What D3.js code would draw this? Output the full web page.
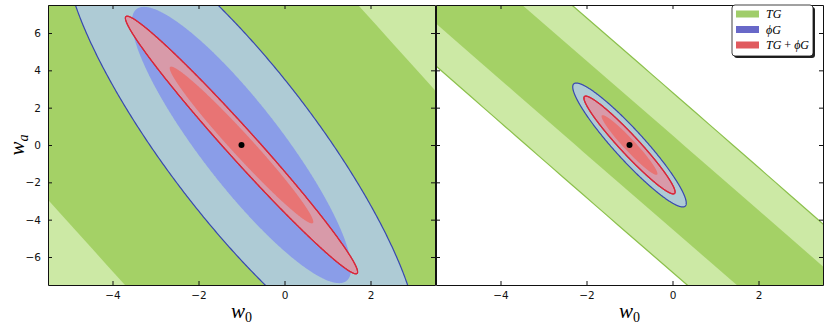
<!DOCTYPE html>
<html>
<head>
<meta charset="utf-8">
<script src="https://cdn.jsdelivr.net/npm/d3@7"></script>
<style>
  body { margin: 0; background: #fff; }
  svg { display: block; }
</style>
</head>
<body>
<div id="chart"></div>
<script>
// ---- data ----
const fiducial = [-1, 0];
const xTicks = [-4, -2, 0, 2];
const yTicks = [-6, -4, -2, 0, 2, 4, 6];
const legendLabels = ['TG', 'ϕG', 'TG + ϕG'];

// each contour: [w0 extent, wa extent, correlation]; 1σ then 2σ
const leftTG    = [[40, 101.8, -0.99], [65, 167, -0.99]];
const leftPhiG  = [[2.55, 7.4, -0.89], [4.1, 11.9, -0.854]];
const leftComb  = [[1.67, 4.2, -0.98], [2.7, 6.9, -0.985]];
const rightTG   = [[30, 60.05, -0.99912], [30, 60.19, -0.99679]];
const rightPhiG = [[0.8, 2.02, -0.937], [1.32, 3.32, -0.937]];
const rightComb = [[0.65, 1.6, -0.96], [1.06, 2.62, -0.96]];

// ---- layout ----
const W = 830, H = 328;
const TOP = 5, BOTTOM = 285;
const TICK = 4;

const colors = {
  tg:   ['#a4d166', '#cce9a5', '#8cc04c'],
  phi:  ['#8a9de8', '#aecbd5', '#3848b0'],
  comb: ['#e87474', '#d89aa9', '#d8283a']
};
const legendColors = ['#a0cd6a', '#6868c8', '#e05a5e'];

const svg = d3.select('#chart').append('svg')
  .attr('width', W).attr('height', H)
  .style('font-family', '"DejaVu Sans", sans-serif');

const yScale = d3.scaleLinear().domain([-7.5, 7.5]).range([BOTTOM, TOP]);

const ts = d3.range(0, 721).map(i => i * Math.PI / 360);
function ellipsePts(c) {
  const [A, B, r] = c;
  const s = Math.sqrt(1 - r * r);
  return ts.map(t => [fiducial[0] + A * Math.cos(t),
                      fiducial[1] + B * (r * Math.cos(t) + s * Math.sin(t))]);
}

const panels = [
  { id: 'L', range: [48, 435], tg: leftTG,  phi: leftPhiG,  comb: leftComb,  yLabels: true },
  { id: 'R', range: [436, 823], tg: rightTG, phi: rightPhiG, comb: rightComb, yLabels: false }
];

panels.forEach(p => {
  const x = d3.scaleLinear().domain([-5.5, 3.5]).range(p.range);
  const g = svg.append('g');

  g.append('clipPath').attr('id', 'clip' + p.id)
    .append('rect')
    .attr('x', p.range[0]).attr('y', TOP)
    .attr('width', p.range[1] - p.range[0]).attr('height', BOTTOM - TOP);

  const line = d3.line().x(d => x(d[0])).y(d => yScale(d[1]));
  const plot = g.append('g').attr('clip-path', `url(#clip${p.id})`);

  // 2σ first, then 1σ, layer by layer
  [['tg', p.tg], ['phi', p.phi], ['comb', p.comb]].forEach(([key, cont]) => {
    const col = colors[key];
    plot.append('path')
      .attr('d', line(ellipsePts(cont[1])))
      .attr('fill', col[1])
      .attr('stroke', col[2])
      .attr('stroke-width', 1.2);
    plot.append('path')
      .attr('d', line(ellipsePts(cont[0])))
      .attr('fill', col[0])
      .attr('stroke', 'none');
  });
  // combined 2σ outline on top of its own 1σ fill
  plot.append('path')
    .attr('d', line(ellipsePts(p.comb[1])))
    .attr('fill', 'none').attr('stroke', colors.comb[2]).attr('stroke-width', 1.2);

  plot.append('circle')
    .attr('cx', x(fiducial[0])).attr('cy', yScale(fiducial[1]))
    .attr('r', 3).attr('fill', '#000');

  // axes with inward ticks
  const fmt = d => d3.format('')(d).replace('-', '\u2212');
  const axB = g.append('g').attr('transform', `translate(0,${BOTTOM})`)
    .call(d3.axisBottom(x).tickValues(xTicks).tickSize(-TICK).tickSizeOuter(0).tickPadding(7)
      .tickFormat(fmt));
  const axT = g.append('g').attr('transform', `translate(0,${TOP})`)
    .call(d3.axisTop(x).tickValues(xTicks).tickSize(-TICK).tickSizeOuter(0).tickFormat(''));
  const axL = g.append('g').attr('transform', `translate(${p.range[0]},0)`)
    .call(d3.axisLeft(yScale).tickValues(yTicks).tickSize(-TICK).tickSizeOuter(0).tickPadding(7)
      .tickFormat(d => p.yLabels ? fmt(d) : ''));
  const axR = g.append('g').attr('transform', `translate(${p.range[1]},0)`)
    .call(d3.axisRight(yScale).tickValues(yTicks).tickSize(-TICK).tickSizeOuter(0).tickFormat(''));

  [axB, axT, axL, axR].forEach(a => {
    a.attr('font-family', '"DejaVu Sans", sans-serif').attr('font-size', 10.5);
    a.selectAll('path.domain').attr('stroke', '#111').attr('stroke-width', 1);
    a.selectAll('line').attr('stroke', '#111');
    a.selectAll('text').attr('fill', '#111');
  });

  // x label
  const xl = g.append('text')
    .attr('x', x(-1)).attr('y', 318)
    .attr('text-anchor', 'middle')
    .attr('font-family', '"Liberation Serif", serif')
    .attr('font-size', 21);
  xl.append('tspan').attr('font-style', 'italic').text('w');
  xl.append('tspan').attr('font-size', 14).attr('dy', 4).text('0');
});

// y label
const yl = svg.append('text')
  .attr('transform', `translate(24,${yScale(0)}) rotate(-90)`)
  .attr('text-anchor', 'middle')
  .attr('font-family', '"Liberation Serif", serif')
  .attr('font-size', 21);
yl.append('tspan').attr('font-style', 'italic').text('w');
yl.append('tspan').attr('font-style', 'italic').attr('font-size', 14).attr('dy', 4).text('a');

// legend
const leg = svg.append('g').attr('transform', 'translate(732,5)');
leg.append('rect').attr('x', 2).attr('y', 2).attr('width', 81).attr('height', 51)
  .attr('rx', 3).attr('fill', '#222');
leg.append('rect').attr('width', 81).attr('height', 51)
  .attr('rx', 3).attr('fill', '#fff').attr('stroke', '#111').attr('stroke-width', 0.8);
legendLabels.forEach((lab, i) => {
  const cy = 9 + i * 15.5;
  leg.append('rect').attr('x', 4).attr('y', cy - 3.5).attr('width', 23).attr('height', 7)
    .attr('fill', legendColors[i]);
  const t = leg.append('text').attr('x', 34).attr('y', cy + 4)
    .attr('font-family', '"Liberation Serif", serif').attr('font-size', 12);
  lab.split(' ').forEach(part => {
    t.append('tspan')
      .attr('font-style', part === '+' ? 'normal' : 'italic')
      .text(part === '+' ? ' + ' : part);
  });
});
</script>
</body>
</html>
